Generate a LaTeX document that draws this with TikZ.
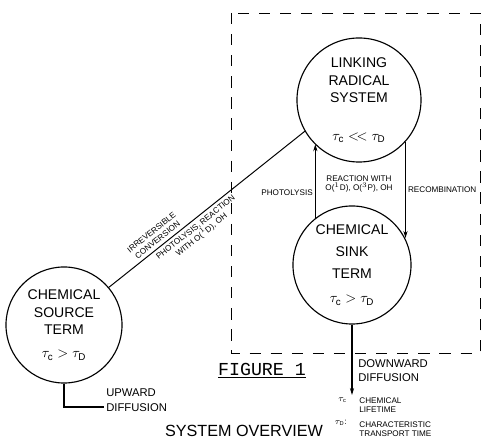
\documentclass[tikz,border=0pt]{standalone}
\usepackage{fontspec}
\setmainfont{Liberation Sans}
\newfontfamily\figfont{Liberation Mono}
\usetikzlibrary{arrows.meta}

\begin{document}
\begin{tikzpicture}[x=0.025cm,y=0.025cm,
 term/.style={draw,circle,line width=0.8pt,align=center,inner sep=0pt,font=\fontsize{10}{12.5}\selectfont},
 lbl/.style={align=center,inner sep=1.5pt,font=\fontsize{5.8}{6.8}\selectfont},
 big/.style={align=left,inner sep=0pt,font=\fontsize{8}{10.5}\selectfont},
 flow/.style={-{Stealth[length=5pt,width=3pt]},line width=0.6pt},
 box/.style={dash pattern=on 8pt off 7pt,line width=0.6pt}]
\useasboundingbox (0,0) rectangle (483,441);
\draw[box] (231,428) rectangle (480,88);
\foreach \x/\y/\d/\id/\name in {64/116/2.9cm/src/{CHEMICAL\\SOURCE\\TERM\\[4pt]$\tau_{\mathrm c}>\tau_{\mathrm D}$},
 359/341/3.1cm/link/{LINKING\\RADICAL\\SYSTEM\\[14pt]$\tau_{\mathrm c}<\!<\tau_{\mathrm D}$},
 352/176/2.95cm/sink/{CHEMICAL\\[3pt]SINK\\[3pt]TERM\\[5pt]$\tau_{\mathrm c}>\tau_{\mathrm D}$}}{
\node[term,minimum size=\d] (\id) at (\x,\y) {\name};}
\draw[line width=0.7pt] (src.40)--node[lbl,above,sloped,pos=0.27,inner sep=2.5pt]{IRREVERSIBLE\\CONVERSION}
 node[lbl,below,sloped,pos=0.42,inner sep=2.5pt]{PHOTOLYSIS, REACTION\\WITH O($^1$D), OH}(link.210);
\draw[flow] (sink.128)--node[lbl,left,pos=0.35]{PHOTOLYSIS}(sink.128 |- link.225);
\draw[flow] (link.318)--node[lbl,right,pos=0.5]{RECOMBINATION}(link.318 |- sink.27);
\node[lbl] (rx) at (359,257) {REACTION WITH\\O($^1$D), O($^3$P), OH};
\coordinate (dn) at (352,46);
\draw[flow,line width=1.2pt] (sink.south)--(dn);
\node[big,anchor=north west] (dd) at (358,82) {DOWNWARD\\DIFFUSION};
\coordinate (up) at (104,34);
\draw[line width=1.2pt] (src.south) |- (up);
\node[big,anchor=south west] (ud) at (106,29) {UPWARD\\DIFFUSION};
\node[lbl,anchor=east] (tc) at (349,41) {$\tau_{\mathrm c}$};
\node[lbl,anchor=west,align=left] (cl) at (357,36) {CHEMICAL\\LIFETIME};
\node[lbl,anchor=east] (td) at (349,18) {$\tau_{\mathrm D}$:};
\node[lbl,anchor=west,align=left] (ct) at (357,12) {CHARACTERISTIC\\TRANSPORT TIME};
\node[font=\figfont\fontsize{13}{15}\selectfont] (fig) at (262,70) {\underline{FIGURE 1}};
\node[font=\fontsize{11.5}{13}\selectfont] (ov) at (244,10) {SYSTEM OVERVIEW};
\end{tikzpicture}
\end{document}
